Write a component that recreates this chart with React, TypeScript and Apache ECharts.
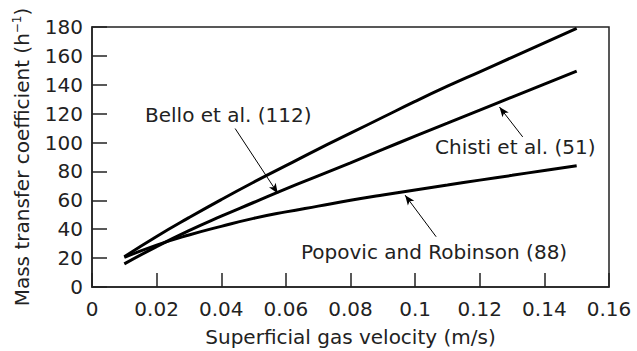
import React, { useEffect, useRef } from "react";
import * as echarts from "echarts";

const velocities = [0.01, 0.02, 0.03, 0.04, 0.05, 0.06, 0.07, 0.08, 0.09, 0.1, 0.11, 0.12, 0.13, 0.14, 0.15];
const bello = [21, 35, 48, 60.5, 72.5, 84, 95.5, 106.5, 117.5, 128.5, 139, 149, 159, 169, 179];
const chisti = [16, 28, 39, 49, 58.5, 68, 77, 86, 95.2, 104.5, 113.5, 122.5, 131.5, 140.5, 149.5];
const popovic = [20.5, 29, 36, 42, 47.5, 52, 56, 60, 63.7, 67.2, 70.6, 74, 77.3, 80.7, 84];

const xTicks = [0, 0.02, 0.04, 0.06, 0.08, 0.1, 0.12, 0.14, 0.16];
const yTicks = [0, 20, 40, 60, 80, 100, 120, 140, 160, 180];

// annotation arrows in data coordinates: [tail, tip]
const belloArrow = [[0.0443, 109.7], [0.0575, 64.8]];
const chistiArrow = [[0.1333, 103.9], [0.1261, 124.6]];
const popovicArrow = [[0.1065, 34.8], [0.0969, 63.6]];

const FONT = "DejaVu Sans";

const pair = (xs: number[], ys: number[]) => xs.map((x, i) => [x, ys[i]]);

export default function App() {
  const ref = useRef<HTMLDivElement>(null);
  useEffect(() => {
    if (!ref.current) return;
    const chart = echarts.init(ref.current, undefined, { renderer: "svg" });
    const lineStyle = { color: "#000", width: 3 };
    const arrowLine = (a: number[][]) => [
      { coord: a[0], symbol: "none" },
      { coord: a[1], symbol: "arrow", symbolSize: [6, 10] },
    ];
    chart.setOption({
      animation: false,
      backgroundColor: "#fff",
      grid: {
        left: 92,
        right: 28,
        top: 27,
        bottom: 64,
        show: true,
        borderColor: "#222",
        borderWidth: 1.5,
        outerBoundsMode: "none",
        containLabel: false,
      },
      xAxis: {
        type: "value",
        min: 0,
        max: 0.16,
        interval: 0.02,
        name: "Superficial gas velocity (m/s)",
        nameLocation: "middle",
        nameGap: 40,
        nameTextStyle: { fontFamily: FONT, fontSize: 20, color: "#222" },
        axisLine: { show: true, lineStyle: { color: "#222", width: 1.5 } },
        axisTick: { show: true, inside: true, length: 14, lineStyle: { color: "#222", width: 1.5 } },
        splitLine: { show: false },
        axisLabel: {
          fontFamily: FONT,
          fontSize: 20,
          color: "#222",
          margin: 12,
          formatter: (v: number) => {
            const t = xTicks.find((k) => Math.abs(k - v) < 1e-9);
            return t === undefined ? "" : String(+t.toFixed(2));
          },
        },
      },
      yAxis: {
        type: "value",
        min: 0,
        max: 180,
        interval: 20,
        name: "Mass transfer coefficient (h{sup|−1})",
        nameLocation: "middle",
        nameRotate: 90,
        nameGap: 59,
        nameTextStyle: {
          fontFamily: FONT,
          fontSize: 20,
          color: "#222",
          rich: {
            sup: { fontFamily: FONT, fontSize: 12, color: "#222", verticalAlign: "top", lineHeight: 22 },
          },
        },
        axisLine: { show: true, lineStyle: { color: "#222", width: 1.5 } },
        axisTick: { show: true, inside: true, length: 15, lineStyle: { color: "#222", width: 1.5 } },
        splitLine: { show: false },
        axisLabel: {
          fontFamily: FONT,
          fontSize: 20,
          color: "#222",
          margin: 9,
          formatter: (v: number) => (yTicks.includes(v) ? String(v) : ""),
        },
      },
      series: [
        {
          name: "Bello et al. (112)",
          type: "line",
          data: pair(velocities, bello),
          smooth: true,
          showSymbol: false,
          lineStyle,
          markLine: {
            silent: true,
            label: { show: false },
            lineStyle: { color: "#000", width: 1, type: "solid" },
            data: [arrowLine(belloArrow), arrowLine(chistiArrow), arrowLine(popovicArrow)],
          },
        },
        {
          name: "Chisti et al. (51)",
          type: "line",
          data: pair(velocities, chisti),
          smooth: true,
          showSymbol: false,
          lineStyle,
        },
        {
          name: "Popovic and Robinson (88)",
          type: "line",
          data: pair(velocities, popovic),
          smooth: true,
          showSymbol: false,
          lineStyle,
        },
      ],
      graphic: [
        {
          type: "text",
          left: 145,
          top: 105,
          style: { text: "Bello et al. (112)", fontFamily: FONT, fontSize: 20, fill: "#222" },
        },
        {
          type: "text",
          left: 435,
          top: 137,
          style: { text: "Chisti et al. (51)", fontFamily: FONT, fontSize: 20, fill: "#222" },
        },
        {
          type: "text",
          left: 301,
          top: 242,
          style: { text: "Popovic and Robinson (88)", fontFamily: FONT, fontSize: 20, fill: "#222" },
        },
      ],
    });
    return () => chart.dispose();
  }, []);
  return <div ref={ref} style={{ width: 637, height: 351, position: "absolute", left: 0, top: 0 }} />;
}
